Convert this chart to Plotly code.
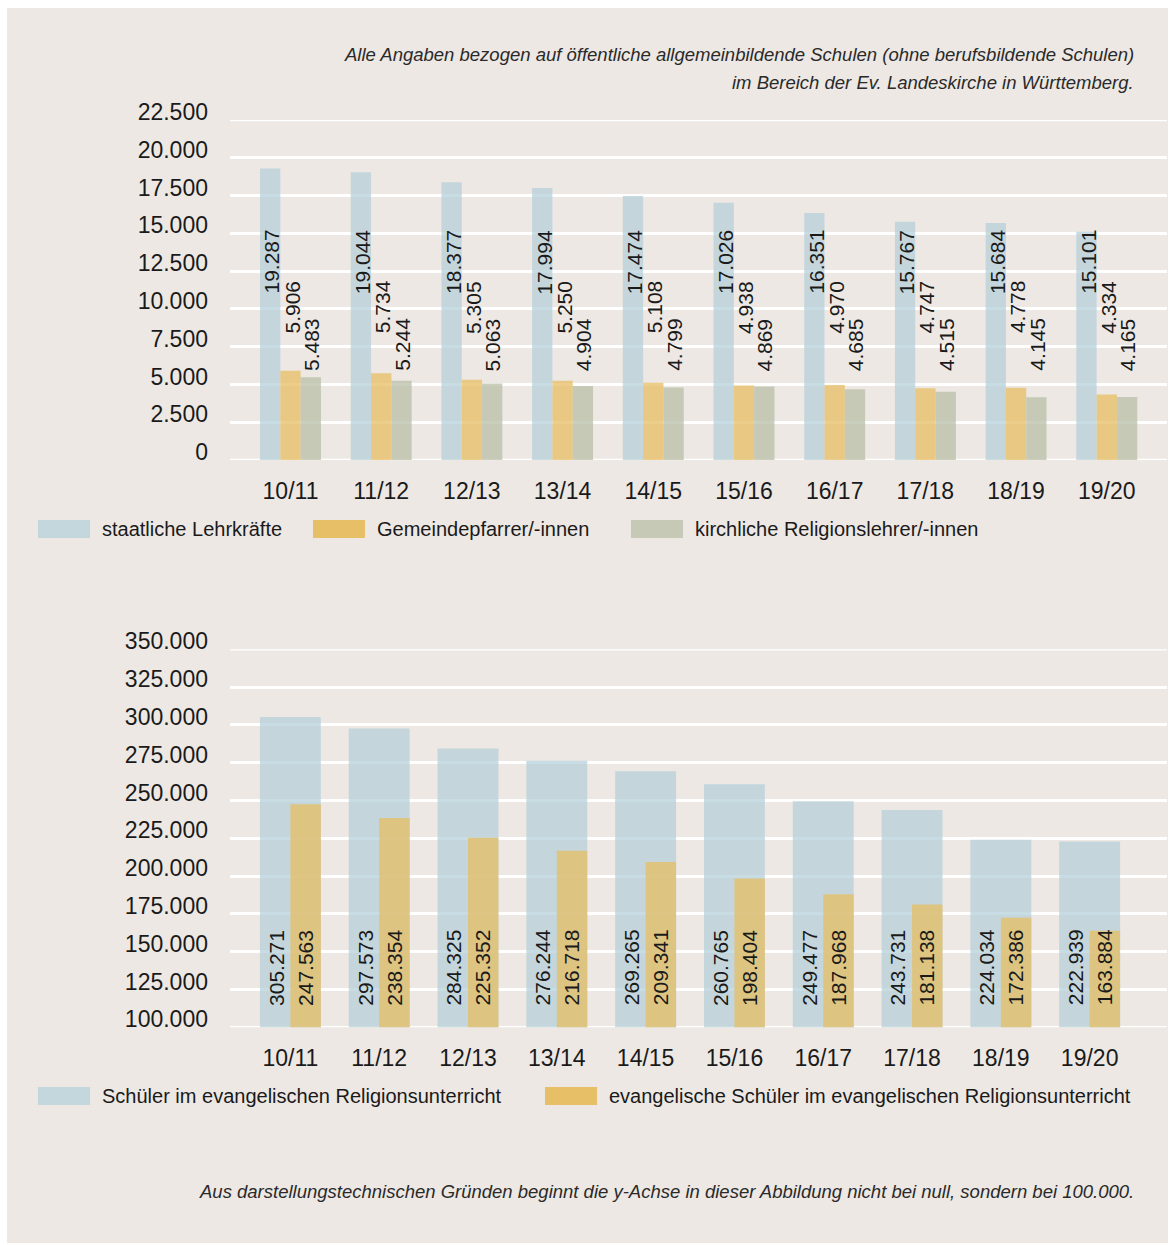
import plotly.graph_objects as go

W, H = 1173, 1245

years = ["10/11", "11/12", "12/13", "13/14", "14/15", "15/16", "16/17", "17/18", "18/19", "19/20"]

staatliche = [19287, 19044, 18377, 17994, 17474, 17026, 16351, 15767, 15684, 15101]
pfarrer = [5906, 5734, 5305, 5250, 5108, 4938, 4970, 4747, 4778, 4334]
kirchliche = [5483, 5244, 5063, 4904, 4799, 4869, 4685, 4515, 4145, 4165]

schueler_ru = [305271, 297573, 284325, 276244, 269265, 260765, 249477, 243731, 224034, 222939]
schueler_ev = [247563, 238354, 225352, 216718, 209341, 198404, 187968, 181138, 172386, 163884]

top_ticks = [0, 2500, 5000, 7500, 10000, 12500, 15000, 17500, 20000, 22500]
bot_ticks = [100000, 125000, 150000, 175000, 200000, 225000, 250000, 275000, 300000, 325000, 350000]

legend_top = ["staatliche Lehrkräfte", "Gemeindepfarrer/-innen", "kirchliche Religionslehrer/-innen"]
legend_bot = ["Schüler im evangelischen Religionsunterricht", "evangelische Schüler im evangelischen Religionsunterricht"]

header1 = "Alle Angaben bezogen auf öffentliche allgemeinbildende Schulen (ohne berufsbildende Schulen)"
header2 = "im Bereich der Ev. Landeskirche in Württemberg."
footer = "Aus darstellungstechnischen Gründen beginnt die y-Achse in dieser Abbildung nicht bei null, sondern bei 100.000."

FONT = "Liberation Sans, Arial, Helvetica, sans-serif"
BG = "#ede8e4"
TXT = "#1a1a1a"
BLUE_BAR = "rgba(181,208,217,0.75)"
ORANGE_BAR = "rgba(229,190,99,0.75)"
GREEN_BAR = "rgba(184,191,167,0.75)"
BLUE_SW = "#c3d7dd"
ORANGE_SW = "#e6bf66"
GREEN_SW = "#c5c9b5"


def de(v):
    return f"{v:,}".replace(",", ".")


def px_x(p):
    return p / W


def px_y(p):
    return 1 - p / H


fig = go.Figure()

bw = 0.224
for vals, col, off, name in [
    (staatliche, BLUE_BAR, -1.5 * bw, legend_top[0]),
    (pfarrer, ORANGE_BAR, -0.5 * bw, legend_top[1]),
    (kirchliche, GREEN_BAR, 0.5 * bw, legend_top[2]),
]:
    fig.add_trace(go.Bar(x=years, y=vals, marker=dict(color=col, line=dict(width=0)),
                         width=bw, offset=off, name=name, showlegend=False,
                         xaxis="x", yaxis="y"))

fig.add_trace(go.Bar(x=years, y=schueler_ru, marker=dict(color=BLUE_BAR, line=dict(width=0)),
                     width=0.686, offset=-0.343, name=legend_bot[0], showlegend=False,
                     xaxis="x2", yaxis="y2"))
fig.add_trace(go.Bar(x=years, y=schueler_ev, marker=dict(color=ORANGE_BAR, line=dict(width=0)),
                     width=0.343, offset=0.0, name=legend_bot[1], showlegend=False,
                     xaxis="x2", yaxis="y2"))

annotations = []
LBL = dict(family=FONT, size=21, color=TXT)
# value labels (fixed label rows per series)
label_rows_top = [(staatliche, 13100, -19), (pfarrer, 10125, 1), (kirchliche, 7640, 21)]
for vals, yrow, xs in label_rows_top:
    for cat, v in zip(years, vals):
        annotations.append(dict(x=cat, y=yrow, xref="x", yref="y", text=de(v), textangle=-90,
                                showarrow=False, xshift=xs, xanchor="center", yanchor="middle",
                                font=LBL))
label_rows_bot = [(schueler_ru, 139500, -14), (schueler_ev, 139500, 15)]
for vals, yrow, xs in label_rows_bot:
    for cat, v in zip(years, vals):
        annotations.append(dict(x=cat, y=yrow, xref="x2", yref="y2", text=de(v), textangle=-90,
                                showarrow=False, xshift=xs, xanchor="center", yanchor="middle",
                                font=LBL))

# header / footer
NOTE = dict(family=FONT, size=18.5, color="#2a2a2a")
annotations.append(dict(x=px_x(1136), y=px_y(55), xref="paper", yref="paper", text="<i>" + header1 + "</i>",
                        showarrow=False, xanchor="right", yanchor="middle", font=NOTE))
annotations.append(dict(x=px_x(1136), y=px_y(83), xref="paper", yref="paper", text="<i>" + header2 + "</i>",
                        showarrow=False, xanchor="right", yanchor="middle", font=NOTE))
annotations.append(dict(x=px_x(1136), y=px_y(1191), xref="paper", yref="paper", text="<i>" + footer + "</i>",
                        showarrow=False, xanchor="right", yanchor="middle", font=NOTE))

shapes = [dict(type="rect", xref="paper", yref="paper", x0=px_x(7), x1=px_x(1168), y0=px_y(1243), y1=px_y(8),
               fillcolor=BG, line=dict(width=0), layer="below")]

# grid lines at the range edges (plotly omits them at the plot borders)
for yref, xref, yv in [("y", "x domain", top_ticks[0]), ("y", "x domain", top_ticks[-1]),
                       ("y2", "x2 domain", bot_ticks[0]), ("y2", "x2 domain", bot_ticks[-1])]:
    shapes.append(dict(type="line", xref=xref, yref=yref, x0=0, x1=1, y0=yv, y1=yv,
                       line=dict(color="white", width=2.5), layer="below"))

# manual legends
LEG = dict(family=FONT, size=20, color=TXT)
leg_top = [(38, BLUE_SW, legend_top[0]), (313, ORANGE_SW, legend_top[1]), (631, GREEN_SW, legend_top[2])]
for x0, col, txt in leg_top:
    shapes.append(dict(type="rect", xref="paper", yref="paper", x0=px_x(x0), x1=px_x(x0 + 52),
                       y0=px_y(538), y1=px_y(520), fillcolor=col, line=dict(width=0), layer="below"))
    annotations.append(dict(x=px_x(x0 + 62), y=px_y(529), xref="paper", yref="paper", text=txt,
                            showarrow=False, xanchor="left", yanchor="middle", font=LEG))
leg_bot = [(38, BLUE_SW, legend_bot[0]), (545, ORANGE_SW, legend_bot[1])]
for x0, col, txt in leg_bot:
    shapes.append(dict(type="rect", xref="paper", yref="paper", x0=px_x(x0), x1=px_x(x0 + 52),
                       y0=px_y(1105), y1=px_y(1087), fillcolor=col, line=dict(width=0), layer="below"))
    annotations.append(dict(x=px_x(x0 + 62), y=px_y(1096), xref="paper", yref="paper", text=txt,
                            showarrow=False, xanchor="left", yanchor="middle", font=LEG))

axis_font = dict(family=FONT, size=23, color=TXT)
xdom = [px_x(230), px_x(1167)]

fig.update_layout(
    template="none",
    width=W, height=H, autosize=False,
    margin=dict(l=0, r=0, t=0, b=0, pad=0),
    paper_bgcolor="white", plot_bgcolor="rgba(0,0,0,0)",
    barmode="overlay", separators=",.",
    font=dict(family=FONT, color=TXT),
    showlegend=False,
    xaxis=dict(domain=xdom, anchor="y", type="category", range=[-0.667, 9.664], automargin=False,
               showgrid=False, zeroline=False, showline=False, ticks="",
               tickfont=axis_font, ticklabelstandoff=15),
    yaxis=dict(domain=[px_y(460), px_y(120)], anchor="x", range=[0, 22500], automargin=False,
               tickvals=top_ticks, tickformat=",d", showgrid=True, gridcolor="white", gridwidth=2.5,
               zeroline=False, showline=False, ticks="", tickfont=axis_font,
               ticklabelstandoff=21, ticklabelshift=-8),
    xaxis2=dict(domain=xdom, anchor="y2", type="category", range=[-0.680, 9.871], automargin=False,
                showgrid=False, zeroline=False, showline=False, ticks="",
                tickfont=axis_font, ticklabelstandoff=15),
    yaxis2=dict(domain=[px_y(1027.3), px_y(649.3)], anchor="x2", range=[100000, 350000], automargin=False,
                tickvals=bot_ticks, tickformat=",d", showgrid=True, gridcolor="white", gridwidth=2.5,
                zeroline=False, showline=False, ticks="", tickfont=axis_font,
                ticklabelstandoff=21, ticklabelshift=-8),
    annotations=annotations,
    shapes=shapes,
)

fig.write_html("out.html", config={"displayModeBar": False},
               post_script="document.body.style.margin='0';document.body.style.overflow='hidden';")
